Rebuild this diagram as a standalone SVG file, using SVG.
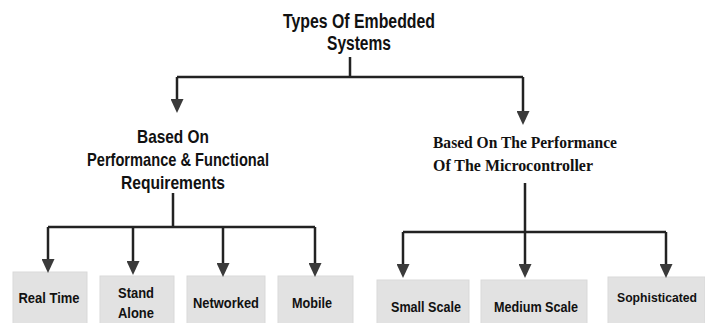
<svg xmlns="http://www.w3.org/2000/svg" width="705" height="323" viewBox="0 0 705 323">
<style>
.t{font-family:"Liberation Sans",Arial,sans-serif;font-weight:bold;fill:#111;}
.s{font-family:"Liberation Serif","Times New Roman",serif;font-weight:bold;fill:#111;}
.box{fill:#e2e2e2;stroke:#d9d9d9;stroke-width:1;}
.bt{font-family:"Liberation Sans",Arial,sans-serif;font-weight:bold;font-size:15px;fill:#111;}
.c{fill:none;stroke:#222;stroke-width:2.5;}
</style>
<defs>
<marker id="ah" viewBox="0 0 14 13" markerWidth="14" markerHeight="13" markerUnits="userSpaceOnUse" refX="0" refY="6.5" orient="auto">
<path d="M0,0 L14,6.5 L0,13 z" fill="#3a3a3a"/>
</marker>
</defs>
<rect width="705" height="323" fill="#fff"/>
<g id="root">
<text class="t" font-size="20" x="359" y="28" text-anchor="middle" textLength="152" lengthAdjust="spacingAndGlyphs">Types Of Embedded</text>
<text class="t" font-size="20" x="359" y="50" text-anchor="middle" textLength="64" lengthAdjust="spacingAndGlyphs">Systems</text>
</g>
<g id="perf-func">
<text class="t" font-size="19" x="173" y="143" text-anchor="middle" textLength="72" lengthAdjust="spacingAndGlyphs">Based On</text>
<text class="t" font-size="19" x="178" y="166" text-anchor="middle" textLength="182" lengthAdjust="spacingAndGlyphs">Performance &amp; Functional</text>
<text class="t" font-size="19" x="173" y="189" text-anchor="middle" textLength="104" lengthAdjust="spacingAndGlyphs">Requirements</text>
</g>
<g id="perf-micro">
<text class="s" font-size="17" x="433" y="148" textLength="184" lengthAdjust="spacingAndGlyphs">Based On The Performance</text>
<text class="s" font-size="17" x="433" y="171" textLength="160" lengthAdjust="spacingAndGlyphs">Of The Microcontroller</text>
</g>
<g id="real-time">
<rect class="box" x="13" y="272" width="74" height="52"/>
<text class="bt" x="49" y="303" text-anchor="middle" textLength="61" lengthAdjust="spacingAndGlyphs">Real Time</text>
</g>
<g id="stand-alone">
<rect class="box" x="100" y="276" width="74" height="48"/>
<text class="bt" x="136" y="298" text-anchor="middle" textLength="36" lengthAdjust="spacingAndGlyphs">Stand</text>
<text class="bt" x="136" y="318" text-anchor="middle" textLength="36" lengthAdjust="spacingAndGlyphs">Alone</text>
</g>
<g id="networked">
<rect class="box" x="187" y="276" width="78" height="48"/>
<text class="bt" x="226" y="308" text-anchor="middle" textLength="66" lengthAdjust="spacingAndGlyphs">Networked</text>
</g>
<g id="mobile">
<rect class="box" x="278" y="276" width="75" height="48"/>
<text class="bt" x="312" y="308" text-anchor="middle" textLength="40" lengthAdjust="spacingAndGlyphs">Mobile</text>
</g>
<g id="small-scale">
<rect class="box" x="377" y="280" width="92" height="44"/>
<text class="bt" x="426" y="312" text-anchor="middle" textLength="70" lengthAdjust="spacingAndGlyphs">Small Scale</text>
</g>
<g id="medium-scale">
<rect class="box" x="481" y="280" width="106" height="44"/>
<text class="bt" x="536" y="312" text-anchor="middle" textLength="84" lengthAdjust="spacingAndGlyphs">Medium Scale</text>
</g>
<g id="sophisticated">
<rect class="box" x="608" y="277" width="97" height="47"/>
<text class="bt" font-size="13.5" style="font-size:13.5px" x="617" y="302" textLength="80" lengthAdjust="spacingAndGlyphs">Sophisticated</text>
</g>
<g id="connectors">
<path class="c" d="M350,57 V77 M177,77 H523"/>
<path class="c" d="M177,77 V99" marker-end="url(#ah)"/>
<path class="c" d="M523,77 V111" marker-end="url(#ah)"/>
<path class="c" d="M173,193 V227 M48,227 H315"/>
<path class="c" d="M48,227 V259" marker-end="url(#ah)"/>
<path class="c" d="M133,227 V261" marker-end="url(#ah)"/>
<path class="c" d="M223,227 V263" marker-end="url(#ah)"/>
<path class="c" d="M315,227 V263" marker-end="url(#ah)"/>
<path class="c" d="M525,183 V232 M403,232 H666"/>
<path class="c" d="M403,232 V264" marker-end="url(#ah)"/>
<path class="c" d="M525,232 V264" marker-end="url(#ah)"/>
<path class="c" d="M666,232 V264" marker-end="url(#ah)"/>
</g>
</svg>
